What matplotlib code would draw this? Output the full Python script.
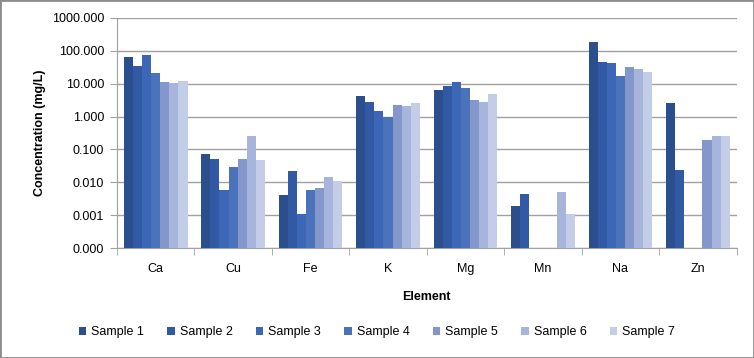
#!/usr/bin/env python3

import numpy as np
import matplotlib
matplotlib.use('Agg')
import matplotlib.pyplot as plt
from matplotlib.patches import Rectangle

elements = ['Ca', 'Cu', 'Fe', 'K', 'Mg', 'Mn', 'Na', 'Zn']
samples = ['Sample 1', 'Sample 2', 'Sample 3', 'Sample 4', 'Sample 5', 'Sample 6', 'Sample 7']

# concentration (mg/L) per sample, in element order; nan = no bar
sample1 = [62.6, 0.072, 0.0041, 4.33, 6.6, 0.0018, 182.0, 2.65]
sample2 = [33.4, 0.050, 0.022, 2.85, 8.3, 0.0044, 47.0, 0.023]
sample3 = [77.0, 0.0056, 0.0010, 1.52, 11.0, np.nan, 43.0, np.nan]
sample4 = [21.0, 0.0297, 0.0057, 0.97, 7.6, np.nan, 16.7, np.nan]
sample5 = [11.5, 0.052, 0.0066, 2.31, 3.2, np.nan, 31.8, 0.20]
sample6 = [10.2, 0.248, 0.0145, 2.05, 2.85, 0.0050, 28.5, 0.258]
sample7 = [11.7, 0.047, 0.011, 2.53, 5.0, 0.0010, 22.0, 0.248]
data = [sample1, sample2, sample3, sample4, sample5, sample6, sample7]

colors = ['#2B4F8C', '#3259A3', '#3B67B6', '#4A73BC', '#8397CB', '#A7B5DD', '#C4CDE7']

plt.rcParams['font.family'] = ['Liberation Sans', 'DejaVu Sans']

fig = plt.figure(figsize=(7.54, 3.58), dpi=100)
ax = fig.add_axes([0.155, 0.307, 0.822, 0.643])

n = len(samples)
width = 1.0 / (n + 1.5)
x = np.arange(len(elements))
for i, (name, vals) in enumerate(zip(samples, data)):
    offs = (i - (n - 1) / 2) * width
    ax.bar(x + offs, vals, width=width, color=colors[i], label=name,
           bottom=0.0001, zorder=3)

ax.set_yscale('log')
ax.set_ylim(0.0001, 1000)
yt = [0.0001, 0.001, 0.01, 0.1, 1, 10, 100, 1000]
ax.set_yticks(yt)
ax.set_yticklabels(['%.3f' % v for v in yt], fontsize=9)
ax.yaxis.set_minor_locator(matplotlib.ticker.NullLocator())
ax.grid(True, axis='y', color='#A0A0A0', linewidth=1.0, zorder=0)

ax.set_xlim(-0.5, len(elements) - 0.5)
ax.set_xticks(x)
ax.set_xticklabels(elements, fontsize=9)
ax.tick_params(axis='x', length=0, pad=11)
ax.set_xticks(np.arange(len(elements) + 1) - 0.5, minor=True)
ax.tick_params(axis='x', which='minor', length=5, color='#A0A0A0')
ax.tick_params(axis='y', length=5, color='#A0A0A0', pad=4)

for s in ['top', 'right']:
    ax.spines[s].set_visible(False)
for s in ['left', 'bottom']:
    ax.spines[s].set_color('#A0A0A0')

ax.set_ylabel('Concentration (mg/L)', fontsize=9, fontweight='bold')
ax.set_xlabel('Element', fontsize=9, fontweight='bold', labelpad=11)

fig.legend(loc='center', bbox_to_anchor=(0.5, 0.072), ncol=7, frameon=False,
           fontsize=9, handlelength=0.6, handleheight=0.6, handletextpad=0.4,
           columnspacing=1.85)

fig.patches.append(Rectangle((0, 0), 1, 1, transform=fig.transFigure,
                             fill=False, edgecolor='#8C8C8C', linewidth=2))

fig.savefig('out.png', dpi=100)
